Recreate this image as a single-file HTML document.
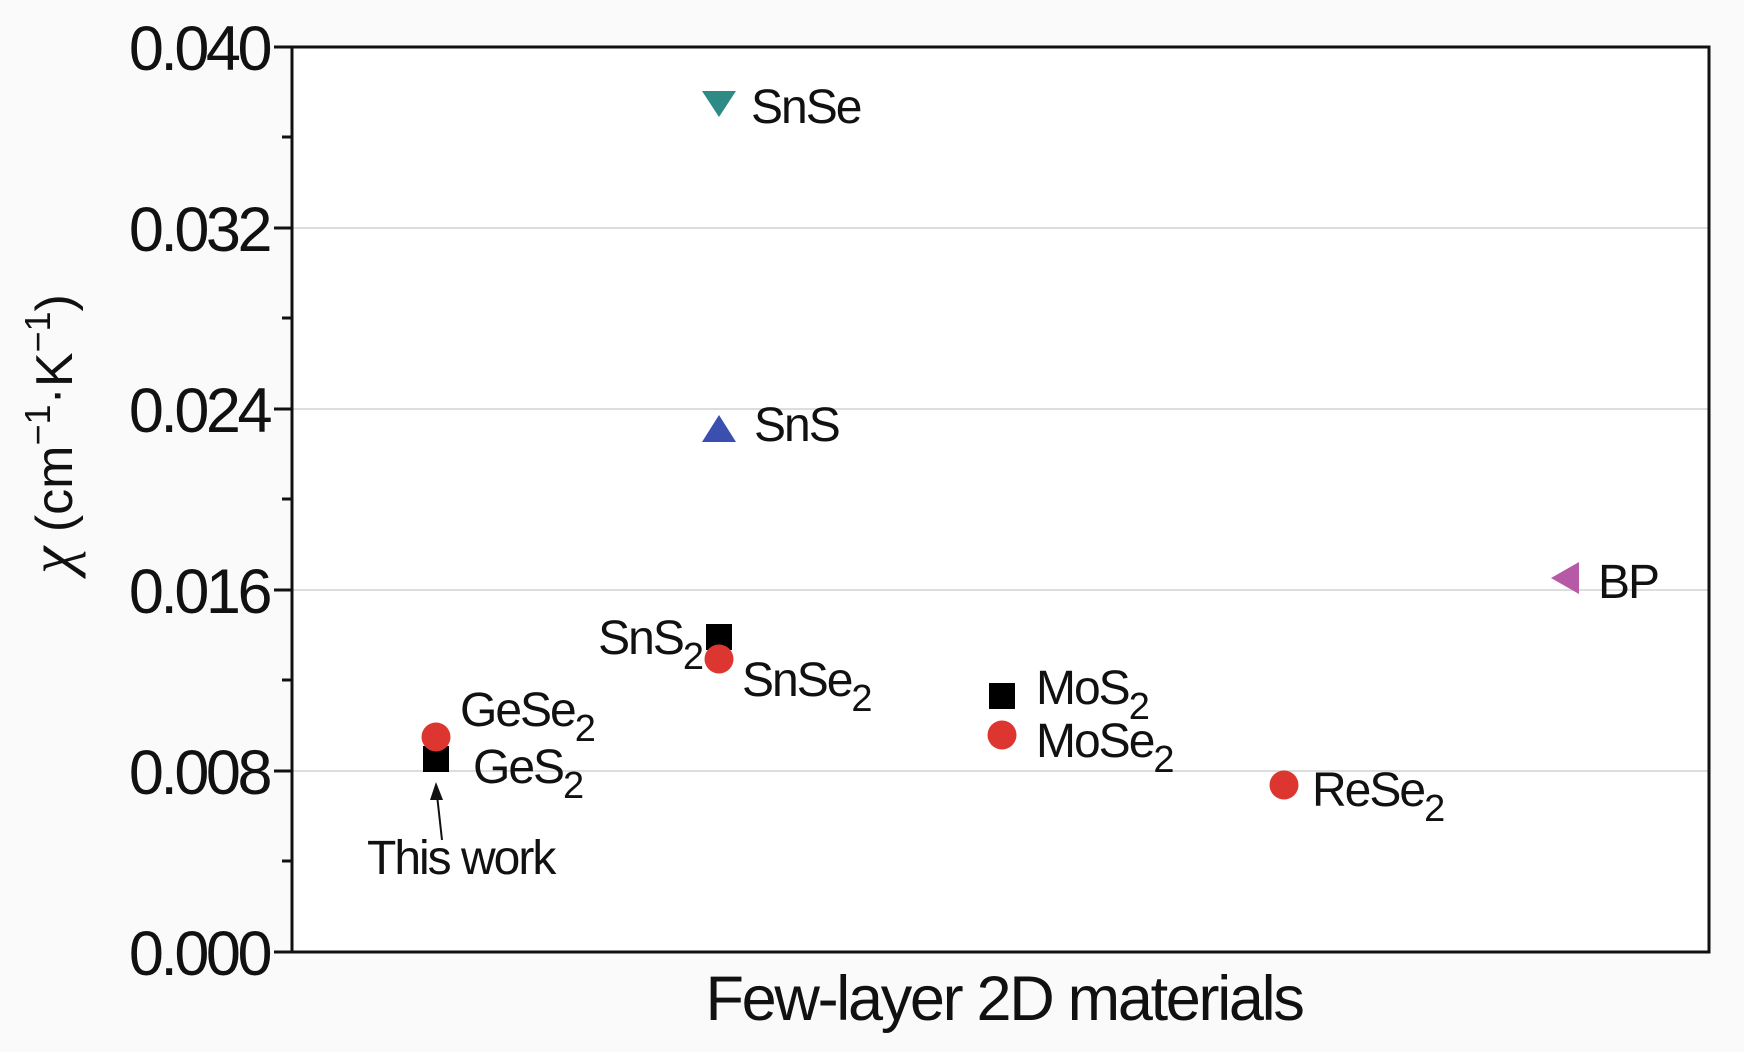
<!DOCTYPE html>
<html><head><meta charset="utf-8"><style>
html,body{margin:0;padding:0;background:#fafafa;}
svg{display:block;}
text{font-family:"Liberation Sans",Arial,sans-serif;fill:#111;}
.t{font-size:63px;letter-spacing:-3.5px;}
.l{font-size:48px;letter-spacing:-2px;}
</style></head><body>
<svg width="1744" height="1052" viewBox="0 0 1744 1052">
<rect x="0" y="0" width="1744" height="1052" fill="#fafafa"/>
<rect x="292" y="47" width="1417" height="905" fill="#fff"/>
<g stroke="#ddd" stroke-width="2">
<line x1="292" y1="228" x2="1709" y2="228"/>
<line x1="292" y1="409" x2="1709" y2="409"/>
<line x1="292" y1="590" x2="1709" y2="590"/>
<line x1="292" y1="771" x2="1709" y2="771"/>
</g>
<rect x="292" y="47" width="1417" height="905" fill="none" stroke="#111" stroke-width="3"/>
<g stroke="#111" stroke-width="3">
<line x1="274" y1="47" x2="292" y2="47"/><line x1="274" y1="228" x2="292" y2="228"/>
<line x1="274" y1="409" x2="292" y2="409"/><line x1="274" y1="590" x2="292" y2="590"/>
<line x1="274" y1="771" x2="292" y2="771"/><line x1="274" y1="952" x2="292" y2="952"/>
<line x1="282" y1="137" x2="292" y2="137"/><line x1="282" y1="318" x2="292" y2="318"/>
<line x1="282" y1="499" x2="292" y2="499"/><line x1="282" y1="680" x2="292" y2="680"/>
<line x1="282" y1="861" x2="292" y2="861"/>
</g>
<g class="t" text-anchor="end">
<text x="269" y="70">0.040</text><text x="269" y="251">0.032</text>
<text x="269" y="432">0.024</text><text x="269" y="613">0.016</text>
<text x="269" y="794">0.008</text><text x="269" y="975">0.000</text>
</g>
<text transform="translate(72,434) rotate(-90)" text-anchor="middle" style="font-size:52px"><tspan font-style="italic" style="font-family:'Liberation Serif',serif;font-size:62px">χ</tspan> (cm<tspan dy="-22" style="font-size:36px">−1</tspan><tspan dy="22">·K</tspan><tspan dy="-22" style="font-size:36px">−1</tspan><tspan dy="22">)</tspan></text>
<text x="1004" y="1020" text-anchor="middle" style="font-size:63px;letter-spacing:-2.3px">Few-layer 2D materials</text>
<polygon points="702,91 736,91 719,117" fill="#2e8a84"/>
<polygon points="702,442 736,442 719,415" fill="#3a4fb0"/>
<polygon points="1579,562 1579,594 1551,578" fill="#b65aa8"/>
<rect x="706" y="624" width="26" height="26" fill="#000"/>
<circle cx="719" cy="659" r="14.5" fill="#dd3530"/>
<rect x="989" y="683" width="26" height="26" fill="#000"/>
<circle cx="1002" cy="735" r="14.5" fill="#dd3530"/>
<circle cx="1284" cy="785" r="14.5" fill="#dd3530"/>
<rect x="423" y="746" width="26" height="26" fill="#000"/>
<circle cx="436" cy="737" r="14.5" fill="#dd3530"/>
<line x1="442" y1="840" x2="437" y2="795" stroke="#111" stroke-width="2"/>
<polygon points="436,782 430,800 443,800" fill="#111"/>
<g class="l">
<text x="751" y="123">SnSe</text>
<text x="754" y="441">SnS</text>
<text x="1598" y="598">BP</text>
<text x="702" y="654" text-anchor="end">SnS<tspan dy="15" style="font-size:38px">2</tspan></text>
<text x="742" y="696">SnSe<tspan dy="15" style="font-size:38px">2</tspan></text>
<text x="1036" y="704">MoS<tspan dy="15" style="font-size:38px">2</tspan></text>
<text x="1036" y="757">MoSe<tspan dy="15" style="font-size:38px">2</tspan></text>
<text x="1312" y="806">ReSe<tspan dy="15" style="font-size:38px">2</tspan></text>
<text x="460" y="726">GeSe<tspan dy="15" style="font-size:38px">2</tspan></text>
<text x="473" y="783">GeS<tspan dy="15" style="font-size:38px">2</tspan></text>
<text x="367" y="874">This work</text>
</g>
</svg>
</body></html>
